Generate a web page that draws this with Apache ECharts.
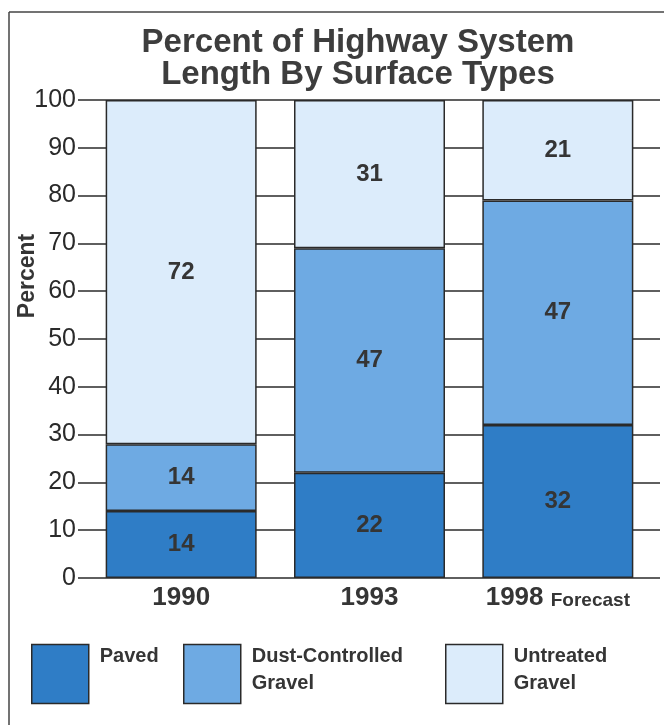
<!DOCTYPE html>
<html>
<head>
<meta charset="utf-8">
<script src="https://cdn.jsdelivr.net/npm/echarts@6/dist/echarts.min.js"></script>
<style>html,body{margin:0;padding:0;background:#fff}#c{width:664px;height:725px}</style>
</head>
<body>
<div id="c"></div>
<script>
const categories = ['1990', '1993', '1998'];
const categoryNotes = ['', '', 'Forecast'];
const paved = [14, 22, 32];
const dustControlled = [14, 47, 47];
const untreated = [72, 31, 21];
const yTicks = [0, 10, 20, 30, 40, 50, 60, 70, 80, 90, 100];
const seriesNames = ['Paved', 'Dust-Controlled Gravel', 'Untreated Gravel'];
const legendLines = [['Paved'], ['Dust-Controlled', 'Gravel'], ['Untreated', 'Gravel']];
const colors = ['#2f7dc6', '#6eaae3', '#dcecfb'];

const chart = echarts.init(document.getElementById('c'));
const dark = '#353535';
const font = 'Liberation Sans, Arial, sans-serif';
const labelStyle = {show: true, position: 'inside', formatter: '{c}', color: dark, fontFamily: font, fontWeight: 'bold', fontSize: 24};
const barStyle = c => ({color: c, borderColor: '#2a2a2a', borderWidth: 1.5});
const txt = {color: dark, fontFamily: font, fontWeight: 'bold', fontSize: 20, lineHeight: 27};
const mkLegend = (i, left) => ({
  data: [seriesNames[i]], left: left, top: 643, padding: 0, icon: 'rect', itemWidth: 57, itemHeight: 59,
  selectedMode: false,
  itemStyle: {borderColor: '#2a2a2a', borderWidth: 1.5},
  formatter: () => {
    const lines = legendLines[i].map(l => '{a|' + l + '}');
    if (lines.length === 1) lines.push('{e|}');
    return lines.join('\n') + '\n{f|}';
  },
  textStyle: Object.assign({}, txt, {rich: {a: Object.assign({}, txt, {padding: [0, 0, 0, 6]}), e: {lineHeight: 27}, f: {lineHeight: 8}}})
});

chart.setOption({
  animation: false,
  title: {
    text: 'Percent of Highway System\nLength By Surface Types',
    left: 353, top: 22, textAlign: 'center',
    textStyle: {color: '#3d3d3d', fontFamily: font, fontWeight: 'bold', fontSize: 33, lineHeight: 32}
  },
  legend: [mkLegend(0, 31), mkLegend(1, 183), mkLegend(2, 445)],
  grid: [
    {left: 87, right: 12, top: 100, bottom: 147},
    {left: 78, right: 4, top: 100, bottom: 147}
  ],
  xAxis: [
    {gridIndex: 0, type: 'category', data: categories.map((c, i) => categoryNotes[i] ? c + ' {s|' + categoryNotes[i] + '}' : c),
     axisLine: {show: false}, axisTick: {show: false},
     axisLabel: {interval: 0, margin: 7, color: dark, fontFamily: font, fontWeight: 'bold', fontSize: 26,
       rich: {s: {fontSize: 19, fontWeight: 'bold', color: dark, fontFamily: font, padding: [5, 0, 0, 0]}}}},
    {gridIndex: 1, type: 'category', show: false, data: categories}
  ],
  yAxis: [
    {gridIndex: 0, type: 'value', min: 0, max: 100, interval: 10, show: false},
    {gridIndex: 1, type: 'value', min: 0, max: 100, interval: 10,
     axisLine: {show: false}, axisTick: {show: false},
     axisLabel: {margin: 2, color: '#2a2a2a', fontFamily: font, fontSize: 25, formatter: v => yTicks.includes(v) ? String(v) : ''},
     splitLine: {lineStyle: {color: '#2a2a2a', width: 1.5}}}
  ],
  series: [
    {name: seriesNames[0], type: 'bar', stack: 'a', data: paved, barWidth: 151, itemStyle: barStyle(colors[0]), label: labelStyle, z: 3},
    {name: seriesNames[1], type: 'bar', stack: 'a', data: dustControlled, barWidth: 151, itemStyle: barStyle(colors[1]), label: labelStyle, z: 3},
    {name: seriesNames[2], type: 'bar', stack: 'a', data: untreated, barWidth: 151, itemStyle: barStyle(colors[2]), label: labelStyle, z: 3}
  ],
  graphic: [
    {type: 'line', shape: {x1: 9, y1: 12, x2: 9, y2: 725}, style: {stroke: '#444', lineWidth: 1.5}},
    {type: 'line', shape: {x1: 9, y1: 12, x2: 664, y2: 12}, style: {stroke: '#444', lineWidth: 1.5}},
    {type: 'text', x: 28, y: 276, rotation: Math.PI / 2, style: {text: 'Percent', fill: dark, font: 'bold 23px Liberation Sans, Arial, sans-serif', textAlign: 'center', textVerticalAlign: 'middle'}}
  ]
});
</script>
</body>
</html>
